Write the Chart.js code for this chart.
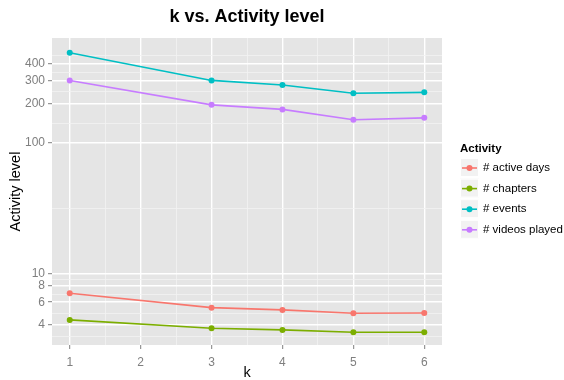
<!DOCTYPE html>
<html>
<head>
<meta charset="utf-8">
<script src="https://cdn.jsdelivr.net/npm/chart.js@4.4.1/dist/chart.umd.min.js"></script>
<style>
  body { margin: 0; background: #fff; }
  #wrap { width: 564px; height: 380px; }
</style>
</head>
<body>
<div id="wrap"><canvas id="grafico"></canvas></div>
<script>
// data (y is on a log scale)
var kValues = [1, 3, 4, 5, 6];
var activeDays = [7.03, 5.45, 5.24, 4.94, 4.96];
var chapters = [4.39, 3.79, 3.68, 3.53, 3.53];
var events = [489, 300, 277, 239, 243];
var videosPlayed = [300, 195, 180, 150, 155];
var seriesNames = ['# active days', '# chapters', '# events', '# videos played'];
var seriesColors = ['#F8766D', '#7CAE00', '#00BFC4', '#C77CFF'];
var xTicks = [1, 2, 3, 4, 5, 6];
var xMinor = [1.5, 2.5, 3.5, 4.5, 5.5];
var yTicks = [4, 6, 8, 10, 100, 200, 300, 400];
var yMinor = [3.27, 4.9, 6.93, 8.94, 31.6, 141, 245, 346, 462];

var fonte = '"Liberation Sans", Arial, sans-serif';

function pontos(vals) {
    return kValues.map(function (k, i) { return { x: k, y: vals[i] }; });
}

var allSeries = [activeDays, chapters, events, videosPlayed];
var datasets = allSeries.map(function (vals, i) {
    return {
        label: seriesNames[i],
        data: pontos(vals),
        borderColor: seriesColors[i],
        backgroundColor: seriesColors[i],
        borderWidth: 1.6,
        pointRadius: 3,
        pointBorderWidth: 0,
        tension: 0
    };
});

// grey panel behind the plot
var painel = {
    id: 'painel',
    beforeDraw: function (chart) {
        var a = chart.chartArea, c = chart.ctx;
        c.save();
        c.fillStyle = '#E5E5E5';
        c.fillRect(a.left, a.top, a.right - a.left, a.bottom - a.top);
        c.restore();
    }
};

// ggplot-style legend on the right
var legenda = {
    id: 'legenda',
    afterDraw: function (chart) {
        var c = chart.ctx;
        var x0 = 460, y0 = 158;
        c.save();
        c.fillStyle = '#000';
        c.font = 'bold 11.5px ' + fonte;
        c.textBaseline = 'alphabetic';
        c.fillText('Activity', x0, 152);
        chart.data.datasets.forEach(function (ds, i) {
            var top = y0 + i * 20.6;
            c.fillStyle = '#F2F2F2';
            c.fillRect(x0, top, 19, 19);
            c.strokeStyle = '#fff';
            c.lineWidth = 1;
            c.strokeRect(x0 + 0.5, top + 0.5, 18, 18);
            var cy = top + 10;
            c.strokeStyle = ds.borderColor;
            c.lineWidth = 1.6;
            c.beginPath();
            c.moveTo(x0 + 2, cy);
            c.lineTo(x0 + 17, cy);
            c.stroke();
            c.fillStyle = ds.borderColor;
            c.beginPath();
            c.arc(x0 + 9.5, cy, 3, 0, Math.PI * 2);
            c.fill();
            c.fillStyle = '#000';
            c.font = '11.5px ' + fonte;
            c.textBaseline = 'middle';
            c.fillText(ds.label, x0 + 23, cy);
        });
        c.restore();
    }
};

function corGrade(c) { return c.tick && c.tick.major ? '#FFFFFF' : '#F2F2F2'; }
function larguraGrade(c) { return c.tick && c.tick.major ? 1.4 : 0.8; }
function corTick(c) { return c.tick && c.tick.major ? '#7F7F7F' : 'rgba(0,0,0,0)'; }

var ctx = document.getElementById('grafico').getContext('2d');
var chart = new Chart(ctx, {
    type: 'line',
    data: { datasets: datasets },
    plugins: [painel, legenda],
    options: {
        responsive: true,
        maintainAspectRatio: false,
        animation: false,
        layout: { padding: { left: 0, right: 122, top: 0, bottom: 0 } },
        plugins: {
            legend: { display: false },
            tooltip: { enabled: false },
            title: {
                display: true,
                text: 'k vs. Activity level',
                fullSize: false,
                color: '#000',
                font: { family: fonte, size: 18, weight: 'bold' },
                padding: { top: 6, bottom: 10.4 }
            }
        },
        scales: {
            x: {
                type: 'linear',
                min: 0.75,
                max: 6.25,
                afterBuildTicks: function (s) {
                    s.ticks = xTicks.map(function (v) { return { value: v, major: true }; })
                        .concat(xMinor.map(function (v) { return { value: v, major: false }; }));
                },
                afterFit: function (s) { s.height = 35; },
                border: { display: false },
                grid: { color: corGrade, lineWidth: larguraGrade, tickColor: corTick, tickLength: 4, tickWidth: 1 },
                ticks: {
                    autoSkip: false,
                    maxRotation: 0,
                    padding: 6,
                    color: '#7F7F7F',
                    font: { family: fonte, size: 12 },
                    callback: function (v) { return xTicks.indexOf(v) >= 0 ? String(v) : ''; }
                },
                title: {
                    display: true,
                    text: 'k',
                    color: '#000',
                    font: { family: fonte, size: 14.5, lineHeight: 1 },
                    padding: { top: 0, bottom: 0 }
                }
            },
            y: {
                type: 'logarithmic',
                min: 2.82,
                max: 634,
                afterBuildTicks: function (s) {
                    s.ticks = yTicks.map(function (v) { return { value: v, major: true }; })
                        .concat(yMinor.map(function (v) { return { value: v, major: false }; }));
                },
                afterFit: function (s) { s.width = 52; },
                border: { display: false },
                grid: { color: corGrade, lineWidth: larguraGrade, tickColor: corTick, tickLength: 4, tickWidth: 1 },
                ticks: {
                    autoSkip: false,
                    padding: 3,
                    color: '#7F7F7F',
                    font: { family: fonte, size: 12 },
                    callback: function (v) { return yTicks.indexOf(v) >= 0 ? String(v) : ''; }
                },
                title: {
                    display: true,
                    text: 'Activity level',
                    color: '#000',
                    font: { family: fonte, size: 14.5 },
                    padding: { top: 7, bottom: 0 }
                }
            }
        }
    }
});
</script>
</body>
</html>
